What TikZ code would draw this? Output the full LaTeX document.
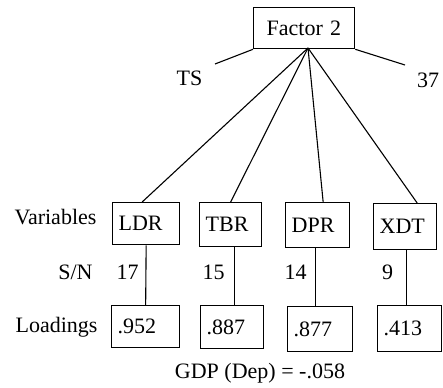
\documentclass[tikz,border=0pt]{standalone}
\usepackage{fontspec}
\setmainfont{Liberation Serif}
\usetikzlibrary{positioning}

\tikzset{
  box/.style={draw, line width=1.3pt, rectangle, anchor=north west, inner xsep=6pt, inner ysep=0pt, align=left},
  lbl/.style={inner sep=0pt}
}

\begin{document}
\begin{tikzpicture}[x=1pt, y=-1pt, line width=1.1pt, font=\fontsize{22}{25}\selectfont]
      \useasboundingbox (0,0) rectangle (443,387);
      % factor box and its two side lines
      \node[box, inner xsep=13pt, text width=75pt, minimum height=41pt] (factor) at (253,7) {Factor~2};
      \coordinate (hub) at (308,48);
      \coordinate (tsend) at (215,64);
      \coordinate (numend) at (405,65);
      \draw (factor.south west) -- (tsend);
      \draw (factor.south east) -- (numend);
      \node[lbl] (ts) at (189.5,78) {TS};
      \node[lbl] (n37) at (428,80) {37};

      % variables
      \node[box, text width=55pt, minimum height=42pt] (ldr) at (112,202) {LDR};
      \node[box, text width=50pt, minimum height=44pt] (tbr) at (199,202) {TBR};
      \node[box, text width=52pt, minimum height=45pt] (dpr) at (285,202) {DPR};
      \node[box, text width=51pt, minimum height=46pt] (xdt) at (373,203) {XDT};
      \draw (hub) -- ([xshift=-4pt]ldr.north);
      \draw (hub) -- (tbr.north);
      \draw (hub) -- ([xshift=5.5pt]dpr.north);
      \draw (hub) -- ([xshift=12pt]xdt.north);

      % loadings
      \node[box, text width=56pt, minimum height=42pt] (l1) at (111,305) {.952};
      \node[box, text width=51pt, minimum height=43pt] (l2) at (200,305) {.887};
      \node[box, text width=53pt, minimum height=45pt] (l3) at (287,306) {.877};
      \node[box, text width=52pt, minimum height=46pt] (l4) at (377,305) {.413};
      \draw (ldr.south) -- (l1.north);
      \draw ([xshift=3.5pt]tbr.south) -- ([xshift=2pt]l2.north);
      \draw ([xshift=-2.5pt]dpr.south) -- ([xshift=-5pt]l3.north);
      \draw ([xshift=1pt]xdt.south) -- ([xshift=-3.5pt]l4.north);

      \node[lbl] (n17) at (127.5,272) {17};
      \node[lbl] (n15) at (213.5,272) {15};
      \node[lbl] (n14) at (295.5,272) {14};
      \node[lbl] (n9) at (387.5,272) {9};

      \node[lbl] (varlbl) at (55.5,217) {Variables};
      \node[lbl] (snlbl) at (75.5,272) {S/N};
      \node[lbl] (loadlbl) at (56.5,327) {Loadings};
      \node[lbl] (gdp) at (260,373) {GDP (Dep) = -.058};
\end{tikzpicture}
\end{document}
